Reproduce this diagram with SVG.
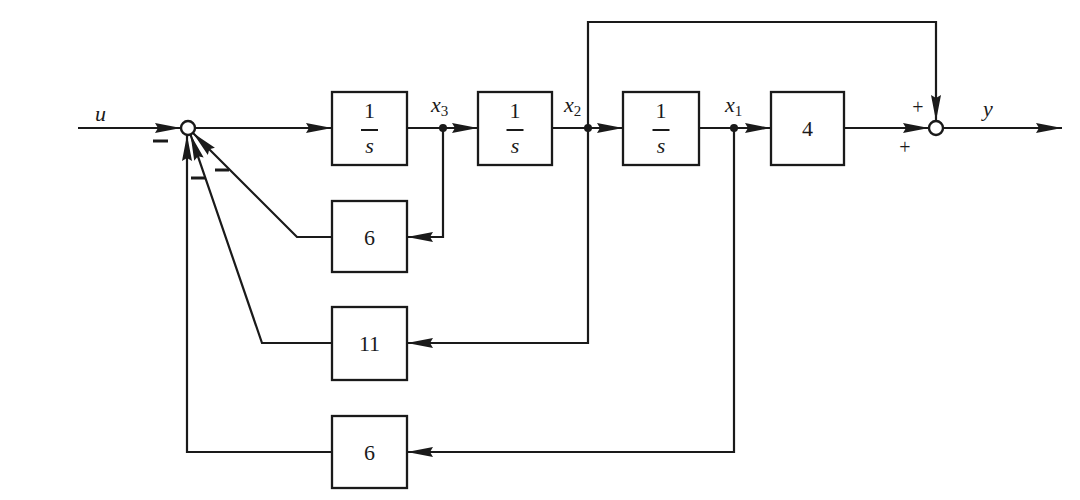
<svg xmlns="http://www.w3.org/2000/svg" width="1080" height="500" viewBox="0 0 1080 500">
<style>
.blk{fill:#fff;stroke:#1a1a1a;stroke-width:2.3}
.ln{fill:none;stroke:#1a1a1a;stroke-width:2.2;stroke-linejoin:miter}
.arr{marker-end:url(#ah)}
.sum{fill:#fff;stroke:#1a1a1a;stroke-width:2.4}
.dot{fill:#1a1a1a}
.t{font-family:"Liberation Serif","Times New Roman",serif;font-size:22px;fill:#1a1a1a;text-anchor:middle}
.v{font-family:"Liberation Serif","Times New Roman",serif;font-style:italic;font-size:22px;fill:#1a1a1a}
.sub{font-size:15px;font-style:normal}
.sg{font-family:"Liberation Serif","Times New Roman",serif;font-size:20px;fill:#1a1a1a;text-anchor:middle}
.mn{stroke:#1a1a1a;stroke-width:3}
</style>
<defs>
<marker id="ah" markerUnits="userSpaceOnUse" markerWidth="28" markerHeight="12" refX="26" refY="6" orient="auto">
<path d="M0,1 L26,6 L0,11 L3,6 z" fill="#1a1a1a"/>
</marker>
</defs>
<rect width="1080" height="500" fill="#fff"/>
<g id="connectors">
<line class="ln arr" x1="78" y1="128" x2="181" y2="128"/>
<line class="ln arr" x1="195" y1="128" x2="332" y2="128"/>
<line class="ln" x1="407" y1="128" x2="443" y2="128"/>
<line class="ln arr" x1="443" y1="128" x2="478" y2="128"/>
<line class="ln" x1="552" y1="128" x2="588" y2="128"/>
<line class="ln arr" x1="588" y1="128" x2="623" y2="128"/>
<line class="ln" x1="699" y1="128" x2="734" y2="128"/>
<line class="ln arr" x1="734" y1="128" x2="771" y2="128"/>
<line class="ln arr" x1="844" y1="128" x2="929" y2="128"/>
<line class="ln arr" x1="943" y1="128" x2="1062" y2="128"/>
<polyline class="ln arr" points="588,128 588,22 936,22 936,121"/>
<polyline class="ln arr" points="443,128 443,237 407,237"/>
<polyline class="ln arr" points="588,128 588,343 407,343"/>
<polyline class="ln arr" points="734,128 734,452 407,452"/>
<polyline class="ln arr" points="332,237 297,237 193,133"/>
<polyline class="ln arr" points="332,343 262,343 190.5,134.6"/>
<polyline class="ln arr" points="332,452 187,452 187,135"/>
<circle class="dot" cx="443" cy="128" r="4"/>
<circle class="dot" cx="588" cy="128" r="4"/>
<circle class="dot" cx="734" cy="128" r="4"/>
</g>
<g id="sum1"><circle class="sum" cx="188" cy="128" r="7"/></g>
<g id="sum2"><circle class="sum" cx="936" cy="128" r="7"/></g>
<g id="int1">
<rect class="blk" x="332" y="92" width="75" height="73"/>
<text class="t" x="369.5" y="118">1</text>
<line x1="361" y1="130" x2="378" y2="130" stroke="#1a1a1a" stroke-width="2"/>
<text class="v" x="369.5" y="153" text-anchor="middle">s</text>
</g>
<g id="int2">
<rect class="blk" x="478" y="92" width="74" height="73"/>
<text class="t" x="515" y="118">1</text>
<line x1="506.5" y1="130" x2="523.5" y2="130" stroke="#1a1a1a" stroke-width="2"/>
<text class="v" x="515" y="153" text-anchor="middle">s</text>
</g>
<g id="int3">
<rect class="blk" x="623" y="92" width="76" height="73"/>
<text class="t" x="661" y="118">1</text>
<line x1="652.5" y1="130" x2="669.5" y2="130" stroke="#1a1a1a" stroke-width="2"/>
<text class="v" x="661" y="153" text-anchor="middle">s</text>
</g>
<g id="gain4">
<rect class="blk" x="771" y="92" width="73" height="73"/>
<text class="t" x="807.5" y="136">4</text>
</g>
<g id="gain6a">
<rect class="blk" x="332" y="201" width="75" height="71"/>
<text class="t" x="369.5" y="245">6</text>
</g>
<g id="gain11">
<rect class="blk" x="332" y="307" width="75" height="73"/>
<text class="t" x="369.5" y="351">11</text>
</g>
<g id="gain6b">
<rect class="blk" x="332" y="416" width="75" height="72"/>
<text class="t" x="369.5" y="460">6</text>
</g>
<g id="labels">
<text class="v" x="95" y="121">u</text>
<text class="v" x="431" y="112">x<tspan class="sub" dy="4">3</tspan></text>
<text class="v" x="564" y="112">x<tspan class="sub" dy="4">2</tspan></text>
<text class="v" x="725" y="112">x<tspan class="sub" dy="4">1</tspan></text>
<text class="v" x="983" y="116">y</text>
<line class="mn" x1="153" y1="141" x2="168" y2="141"/>
<line class="mn" x1="191" y1="178" x2="205" y2="178"/>
<line class="mn" x1="215" y1="170" x2="229" y2="170"/>
<text class="sg" x="918" y="114">+</text>
<text class="sg" x="905" y="154">+</text>
</g>
</svg>
